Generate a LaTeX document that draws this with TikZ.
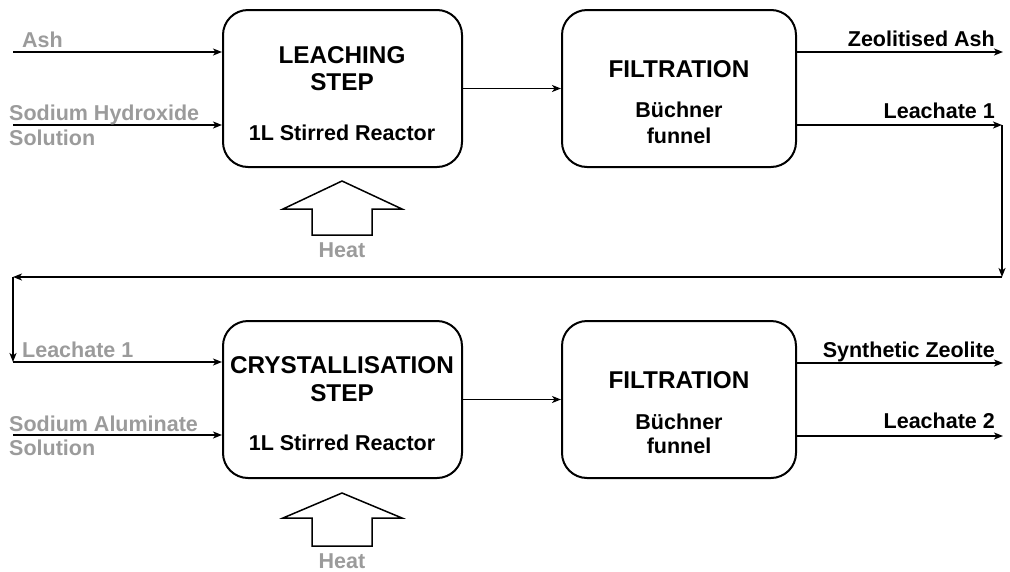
\documentclass[tikz,border=0pt]{standalone}
\usepackage{fontspec}
\setmainfont{Liberation Sans}
\usetikzlibrary{arrows.meta}
\definecolor{lblgray}{RGB}{155,155,155}
\tikzset{
  procbox/.style={draw=black, line width=2pt, rounded corners=25pt, minimum width=239pt, minimum height=157pt, inner sep=0pt},
  arr/.style={line width=1.5pt, -{Stealth[length=9pt,width=7pt,inset=2.5pt]}},
  ttl/.style={font=\bfseries\fontsize{24.3}{27}\selectfont, anchor=base, inner sep=0pt},
  sub/.style={font=\bfseries\fontsize{21.5}{24}\selectfont, anchor=base, inner sep=0pt},
  gl/.style={font=\bfseries\fontsize{21.5}{24}\selectfont, text=lblgray, anchor=base west, inner sep=0pt},
  bl/.style={font=\bfseries\fontsize{21.5}{24}\selectfont, anchor=base east, inner sep=0pt},
  heat/.style={draw=black, line width=1.5pt, fill=white, line join=miter}
}
\begin{document}
\begin{tikzpicture}[x=1pt, y=-1pt]
\useasboundingbox (0,0) rectangle (1010,571);
% boxes
\node[procbox] (L) at (342.5,88.5) {};
\node[procbox, minimum width=234pt] (F1) at (679,88.5) {};
\node[procbox] (C) at (342.5,399.5) {};
\node[procbox, minimum width=234pt] (F2) at (679,399.5) {};
% box texts
\node[ttl] (lt1) at (342,63) {LEACHING};
\node[ttl] (lt2) at (342,90) {STEP};
\node[sub] (lt3) at (342,140) {1L Stirred Reactor};
\node[ttl] (ft1) at (679,77) {FILTRATION};
\node[sub] (ft2) at (679,117) {Büchner};
\node[sub] (ft3) at (679,143) {funnel};
\node[ttl] (ct1) at (342,373) {CRYSTALLISATION};
\node[ttl] (ct2) at (342,401) {STEP};
\node[sub] (ct3) at (342,450) {1L Stirred Reactor};
\node[ttl] (gt1) at (679,388) {FILTRATION};
\node[sub] (gt2) at (679,429) {Büchner};
\node[sub] (gt3) at (679,453) {funnel};
% input coordinates
\coordinate (ashin) at (13,52);
\coordinate (naohin) at (13,125);
\coordinate (naalin) at (13,435);
\coordinate (zaout) at (1003,52);
\coordinate (c1) at (1002,125);
\coordinate (c2) at (1002,277);
\coordinate (c3) at (13,277);
\coordinate (c4) at (13,362);
\coordinate (szout) at (1003,363);
\coordinate (l2out) at (1003,436);
% connectors
\draw[arr] (ashin) -- (ashin -| L.west);
\draw[arr] (naohin) -- (naohin -| L.west);
\draw[arr] (L.east) -- (F1.west);
\draw[arr] (F1.east |- zaout) -- (zaout);
\draw[arr] (F1.east |- c1) -- (c1);
\draw[arr] (c1) -- (c2);
\draw[arr] (c2) -- (c3);
\draw[arr] (c3) -- (c4);
\draw[arr] (c4) -- (c4 -| C.west);
\draw[arr] (naalin) -- (naalin -| C.west);
\draw[arr] (C.east) -- (F2.west);
\draw[arr] (F2.east |- szout) -- (szout);
\draw[arr] (F2.east |- l2out) -- (l2out);
% labels
\node[gl] (ashl) at (22,47) {Ash};
\node[gl] (naoh1) at (9,120) {Sodium Hydroxide};
\node[gl] (naoh2) at (9,145) {Solution};
\node[bl] (zal) at (995,46) {Zeolitised Ash};
\node[bl] (l1l) at (995,118) {Leachate 1};
\node[gl] (l1b) at (22,357) {Leachate 1};
\node[gl] (naal1) at (9,431) {Sodium Aluminate};
\node[gl] (naal2) at (9,455) {Solution};
\node[bl] (szl) at (995,357) {Synthetic Zeolite};
\node[bl] (l2l) at (995,428) {Leachate 2};
% heat arrows
\draw[heat] (342,181) -- (402,209) -- (372,209) -- (372,235) -- (312,235) -- (312,209) -- (283,209) -- cycle;
\node[sub, text=lblgray] (h1) at (342,257) {Heat};
\draw[heat] (342,493) -- (402,518) -- (372,518) -- (372,546) -- (312,546) -- (312,518) -- (283,518) -- cycle;
\node[sub, text=lblgray] (h2) at (342,568) {Heat};
\end{tikzpicture}
\end{document}
